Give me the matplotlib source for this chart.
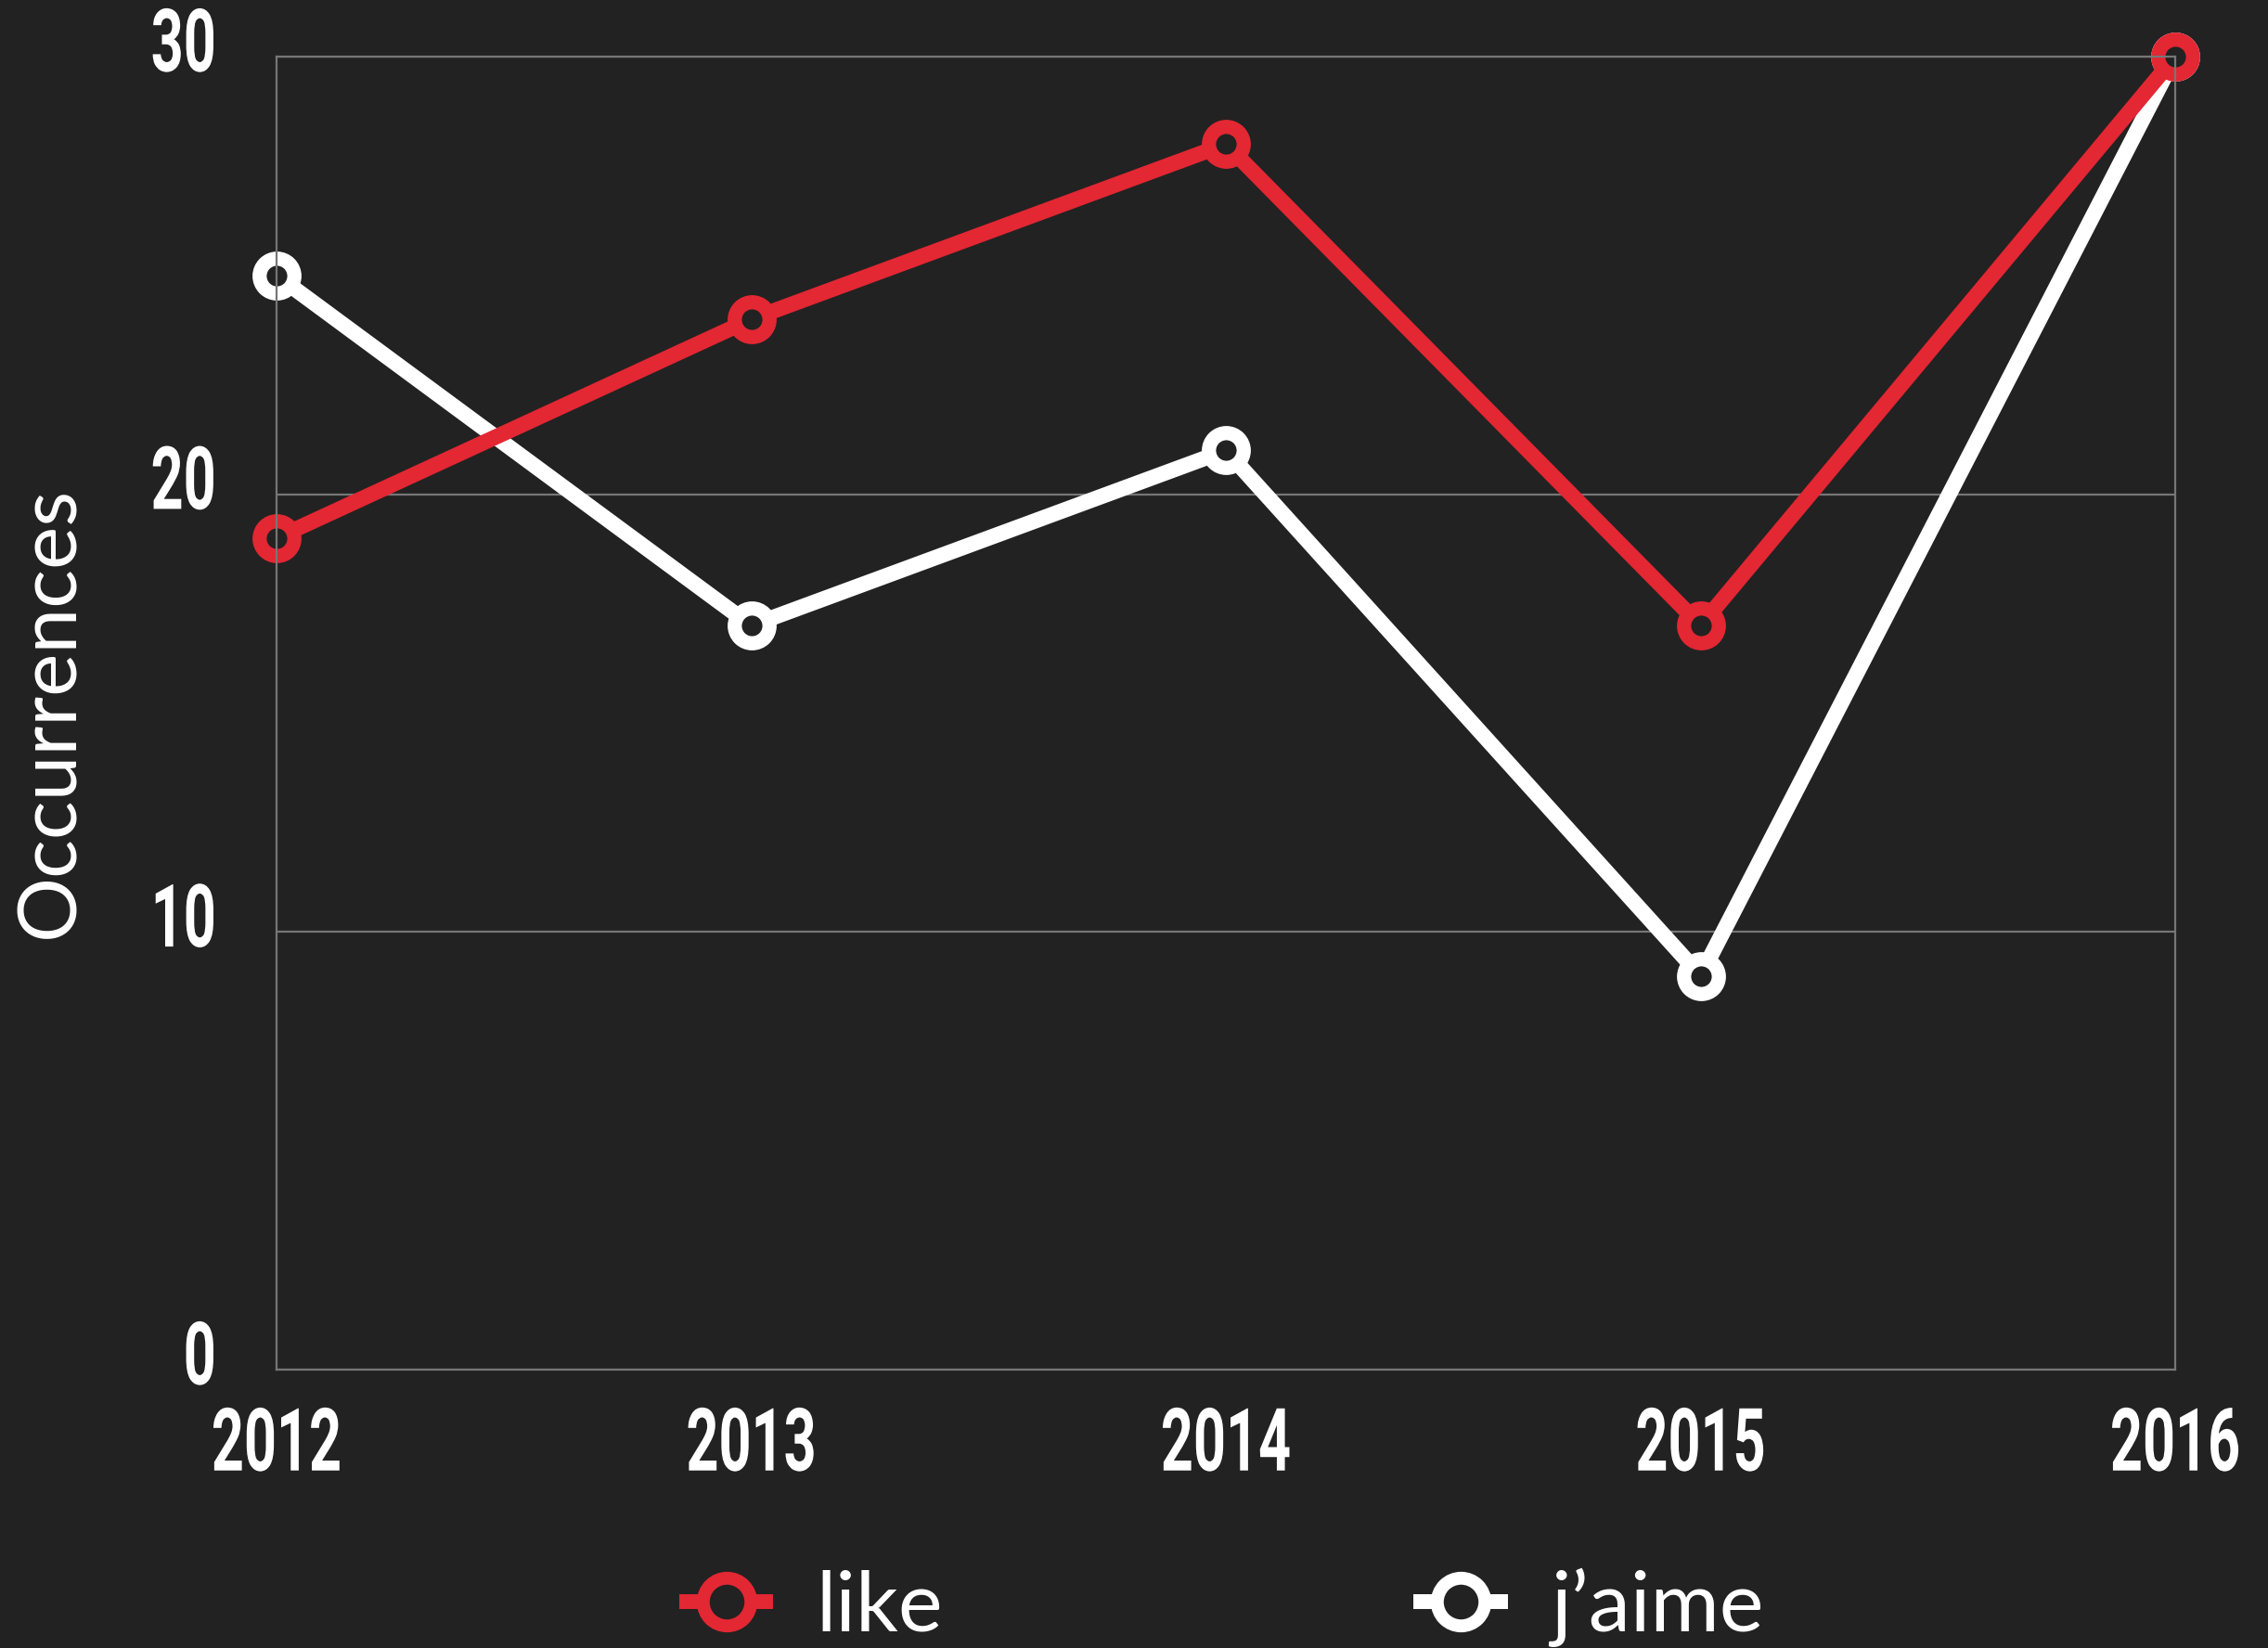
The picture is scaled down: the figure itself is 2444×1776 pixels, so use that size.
import matplotlib
matplotlib.use("Agg")
import matplotlib.pyplot as plt
from matplotlib.lines import Line2D
from matplotlib.patheffects import AbstractPathEffect
from matplotlib.transforms import Affine2D

years = ["2012", "2013", "2014", "2015", "2016"]
like = [19, 24, 28, 17, 30]
jaime = [25, 17, 21, 9, 30]
yticks = [0, 10, 20, 30]

BG = "#222222"
RED = "#e32733"
WHITE = "#ffffff"
GRID = "#767676"


class VStretch(AbstractPathEffect):
    """Draw text taller than wide (the reference uses a condensed face)."""

    def __init__(self, sy, anchor="top", dy_px=0.0):
        super().__init__()
        self.sy = sy
        self.anchor = anchor
        self.dy = dy_px

    def draw_path(self, renderer, gc, tpath, affine, rgbFace=None):
        ext = tpath.get_extents()
        if self.anchor == "top":
            cy = ext.y1
        else:
            cy = (ext.y0 + ext.y1) / 2
        pre = Affine2D().translate(0, -cy).scale(1, self.sy).translate(0, cy)
        renderer.draw_path(gc, tpath, pre + affine + Affine2D().translate(0, self.dy), rgbFace)


fig = plt.figure(figsize=(24.44, 17.76), dpi=100, facecolor=BG)
ax = fig.add_axes([298/2444, 1 - 1476/1776, (2344-298)/2444, (1476-61)/1776])
ax.set_facecolor(BG)

x = list(range(len(years)))
mk = dict(marker="o", markersize=27, markeredgewidth=11, markerfacecolor=BG)
ax.plot(x, jaime, color=WHITE, lw=12, markeredgecolor=WHITE, zorder=3, clip_on=False, **mk)
ax.plot(x, like, color=RED, lw=12, markeredgecolor=RED, zorder=4, clip_on=False, **mk)

ax.set_xlim(0, 4)
ax.set_ylim(0, 30)
ax.set_xticks(x)
ax.set_xticklabels(years)
ax.set_yticks(yticks)
ax.set_yticklabels([str(v) for v in yticks])
ax.grid(axis="y", color=GRID, lw=1.6, zorder=1)
for s in ax.spines.values():
    s.set_color(GRID)
    s.set_linewidth(1.6)
    s.set_zorder(5)
ax.tick_params(length=0)
tickfont = dict(family=["Roboto", "DejaVu Sans"], weight="bold", size=44)
for lab in ax.get_xticklabels():
    lab.set(color=WHITE, **tickfont)
    lab.set_path_effects([VStretch(1.54, "top", 0)])
for lab in ax.get_yticklabels():
    lab.set(color=WHITE, **tickfont)
    lab.set_path_effects([VStretch(1.54, "center", 19)])
ax.tick_params(axis="x", pad=28)
ax.tick_params(axis="y", pad=47)

fig.text(55/2444, 1 - 767/1776, "Occurrences", rotation=90, color=WHITE,
         family=["Lato", "DejaVu Sans"], size=63, ha="center", va="center")

lmk = dict(marker="o", markersize=37, markeredgewidth=10, markerfacecolor=BG)
handles = [Line2D([], [], color=RED, lw=11.5, markeredgecolor=RED, **lmk),
           Line2D([], [], color=WHITE, lw=11.5, markeredgecolor=WHITE, **lmk)]
fig.legend(handles, ["like", "j\u2019aime"], loc="center", ncol=2,
           bbox_to_anchor=(1320/2444, 44/1776), frameon=False,
           prop=dict(family=["Lato", "DejaVu Sans"], size=65),
           labelcolor=WHITE, handlelength=0.95, handletextpad=0.6,
           columnspacing=5.7)

fig.savefig("out.png", dpi=100, facecolor=BG)
